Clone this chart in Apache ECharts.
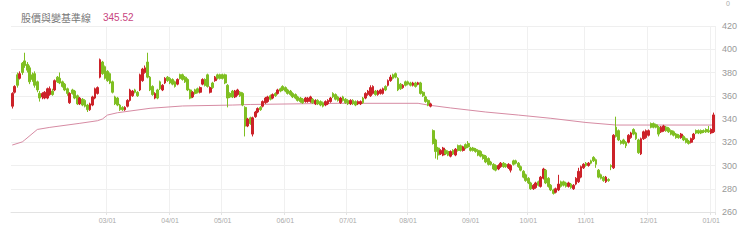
<!DOCTYPE html>
<html><head><meta charset="utf-8">
<script src="https://cdn.jsdelivr.net/npm/echarts@6/dist/echarts.min.js"></script>
<style>html,body{margin:0;padding:0;background:#fff}#c{width:740px;height:242px}</style>
</head><body><div id="c"></div>
<script>
const titleText = '股價與變基準線';
const valueText = '345.52';
const tickLabels = ['03/01','04/01','05/01','06/01','07/01','08/01','09/01','10/01','11/01','12/01','01/01'];
const tickIndex = [38,63,84,109,134,158,183,206,229,254,279];
const yTicks = [260, 420, 20];

const opens = [
351,363,378,375,388,390,387,384,378,379,
372,362,359,358,358,361,364,365,376,375,
372,370,366,354,365,364,360,353,357,356,
352,348,352,358,362,376,389,385,381,379,
372,359,358,352,350,348,351,356,360,365,
363,365,373,380,389,376,368,358,365,372,
365,371,376,375,374,372,370,378,378,376,
374,365,359,365,366,363,370,374,378,363,
371,373,378,378,378,378,369,362,364,359,
361,363,362,350,334,341,327,342,346,350,
351,354,355,360,358,362,362,366,368,367,
365,364,362,361,359,358,357,355,355,355,
357,353,356,355,354,352,353,355,362,361,
359,354,359,357,356,353,356,355,353,353,
358,358,361,360,362,364,361,362,362,368,
369,373,378,379,375,370,367,372,372,371,
369,371,370,371,363,359,356,351,330,322,
315,310,309,313,312,308,313,309,317,317,
313,318,319,315,315,314,313,312,309,308,
306,303,301,300,297,299,302,301,298,296,
304,304,302,299,295,292,289,285,280,281,
286,282,289,296,289,283,279,277,279,286,
286,285,282,284,280,284,286,290,298,302,
300,304,307,305,296,292,290,286,288,300,
298,333,330,321,322,320,320,324,331,328,
322,310,323,324,326,336,336,335,333,329,
330,333,332,330,329,327,326,324,325,323,
321,320,323,330,330,330,330,331,330,328,329];
const closes = [
362,368,369,379,380,386,382,372,374,369,
365,358,362,363,366,366,361,373,372,371,
368,365,362,362,362,358,353,358,352,351,
348,353,359,366,367,391,379,375,373,371,
363,353,352,348,348,350,356,365,364,363,
360,378,383,384,376,365,361,362,358,366,
369,375,373,371,370,368,374,375,374,372,
365,358,363,362,363,367,374,369,368,367,
367,376,375,375,375,371,358,359,359,364,
365,360,352,334,340,336,341,346,349,348,
355,358,359,357,361,360,365,364,365,364,
362,361,359,358,356,355,354,358,358,359,
354,356,353,352,351,355,356,358,359,357,
356,358,356,354,353,356,353,352,355,355,
354,362,364,367,368,361,364,365,366,365,
373,376,375,376,365,366,369,369,370,369,
371,368,371,362,360,355,352,353,319,312,
309,313,315,310,309,312,310,314,313,313,
316,315,316,313,313,312,309,308,306,303,
301,301,297,296,300,302,299,299,301,300,
301,302,299,296,290,287,285,280,283,285,
283,290,297,285,282,279,276,280,284,282,
283,282,285,281,283,289,295,299,301,300,
302,302,304,301,290,289,287,290,287,299,
326,325,322,319,319,317,326,328,327,323,
311,323,329,330,330,333,333,333,327,333,
334,330,329,327,326,324,324,327,322,320,
319,323,327,328,328,328,329,329,329,331,343.5];
const lows = [
349,362,367,374,378,384,380,370,372,367,
363,355,357,357,357,360,360,364,371,370,
367,364,360,353,361,357,352,352,351,350,
346,347,351,357,361,375,378,374,372,370,
362,352,351,347,347,347,350,355,359,362,
359,364,372,379,375,364,360,357,357,365,
364,370,372,370,369,367,369,374,373,371,
364,357,358,361,362,362,369,368,367,362,
366,372,374,374,374,370,350,358,358,358,
360,359,351,325,333,335,325,341,345,347,
350,353,354,356,357,359,361,363,364,363,
361,360,358,357,355,354,353,354,354,354,
353,352,352,351,350,351,352,354,358,356,
355,353,355,353,352,352,352,351,352,352,
353,357,360,359,361,360,360,361,361,364,
368,372,374,375,364,365,366,368,369,368,
368,367,369,361,359,354,351,350,318,306,
305,309,308,309,308,307,309,308,312,312,
312,314,315,312,312,311,308,307,305,302,
300,300,296,295,296,298,298,298,297,294,
300,301,298,295,289,286,284,279,279,280,
282,281,288,284,281,278,275,276,278,281,
282,281,281,280,279,283,285,289,297,299,
299,301,303,298,289,288,286,285,286,296,
297,324,321,318,318,315,319,323,326,322,
310,309,322,323,325,332,332,332,325,328,
329,329,328,326,325,323,323,323,321,319,
318,319,322,327,327,327,328,328,328,327,328];
const highs = [
363,369,380,381,389,397,389,386,380,381,
373,364,363,364,367,368,366,374,377,380,
373,371,367,363,366,365,361,359,358,357,
353,354,360,367,368,392,390,386,382,380,
373,360,359,353,351,351,357,366,365,366,
364,379,384,386,397,377,369,363,366,373,
370,376,377,376,375,373,375,379,379,377,
375,366,364,366,367,368,375,375,379,368,
372,377,379,379,379,379,370,363,365,365,
366,364,363,351,341,342,342,347,350,351,
356,359,360,361,362,363,366,367,369,368,
366,365,363,362,360,359,358,359,359,360,
358,357,357,356,355,356,357,359,363,362,
360,359,360,358,357,357,357,356,356,356,
359,363,365,369,369,365,365,366,367,369,
374,378,379,380,376,371,370,373,373,372,
372,372,372,372,364,360,357,354,331,323,
316,314,316,314,313,313,314,315,318,318,
317,319,321,316,316,315,314,313,310,309,
307,304,302,301,301,303,303,302,302,301,
305,305,303,300,296,293,290,286,284,286,
287,291,298,297,290,284,280,281,292,287,
287,286,286,285,284,290,298,300,302,303,
303,305,308,306,297,293,291,291,289,301,
327,342,331,322,323,321,327,329,332,329,
323,324,330,331,331,337,337,336,334,334,
335,334,333,331,330,328,327,328,326,324,
322,324,328,331,331,331,331,332,334,332,345.5];
// baseline key points (index -> value), straight segments drawn by the library
const baseIdx = [0,4,5,10,15,27,34,36,38,42,55,68,88,95,130,162,166,175,189,202,215,229,241,280];
const baseVal = [317.6,320.3,322,331,332.8,336.3,338.5,340,343.4,345.4,349.2,351.2,352,352.5,353.5,353.5,352,349.5,346,343.4,340.6,337,334.8,334.8];

const cats = opens.map((_, i) => 'd' + i);
const ohlc = opens.map((o, i) => [o, closes[i], lows[i], highs[i]]);
const baseline = cats.map(() => null);
baseIdx.forEach((k, j) => { baseline[k] = baseVal[j]; });
const isTick = (i) => tickIndex.indexOf(i) >= 0;

const chart = echarts.init(document.getElementById('c'), null, {renderer: 'svg'});
chart.setOption({
  animation: false,
  backgroundColor: '#fff',
  title: [
    {text: titleText, left: 16, top: 7, textStyle: {fontSize: 10, fontWeight: 'normal', color: '#777', fontFamily: 'Noto Sans CJK TC, sans-serif'}},
    {text: valueText, left: 98, top: 7, textStyle: {fontSize: 10, fontWeight: 'normal', color: '#c8457e', fontFamily: 'Liberation Sans, Arial, sans-serif'}}
  ],
  graphic: [{type: 'text', left: 726, top: 0, style: {text: '0', fill: '#aaa', font: '7px Liberation Sans, Arial, sans-serif'}}],
  grid: {left: 11, right: 23, top: 26, bottom: 30},
  xAxis: {
    type: 'category', data: cats, boundaryGap: true,
    axisLine: {lineStyle: {color: '#e3e3e3'}},
    axisTick: {show: true, length: 3, interval: isTick, lineStyle: {color: '#e3e3e3'}},
    axisLabel: {interval: isTick, margin: 5, fontSize: 7, color: '#aaa',
      fontFamily: 'Liberation Sans, Arial, sans-serif',
      formatter: (v, i) => { const k = tickIndex.indexOf(i); return k >= 0 ? tickLabels[k] : ''; }},
    splitLine: {show: true, interval: isTick, lineStyle: {color: '#f0f0f0'}}
  },
  yAxis: {
    type: 'value', position: 'right', min: yTicks[0], max: yTicks[1], interval: yTicks[2], scale: true,
    axisLine: {show: false}, axisTick: {show: false},
    axisLabel: {color: '#999', fontSize: 9, margin: 7, fontFamily: 'Liberation Sans, Arial, sans-serif'},
    splitLine: {lineStyle: {color: '#efefef'}}
  },
  series: [
    {type: 'line', data: baseline, connectNulls: true, symbol: 'none', z: 1,
     lineStyle: {color: '#d68ba3', width: 1}},
    {type: 'candlestick', data: ohlc, barWidth: '92%', z: 2,
     itemStyle: {color: '#cc2229', color0: '#7fbf22', borderColor: '#cc2229', borderColor0: '#7fbf22', borderWidth: 1}}
  ]
});
</script></body></html>
